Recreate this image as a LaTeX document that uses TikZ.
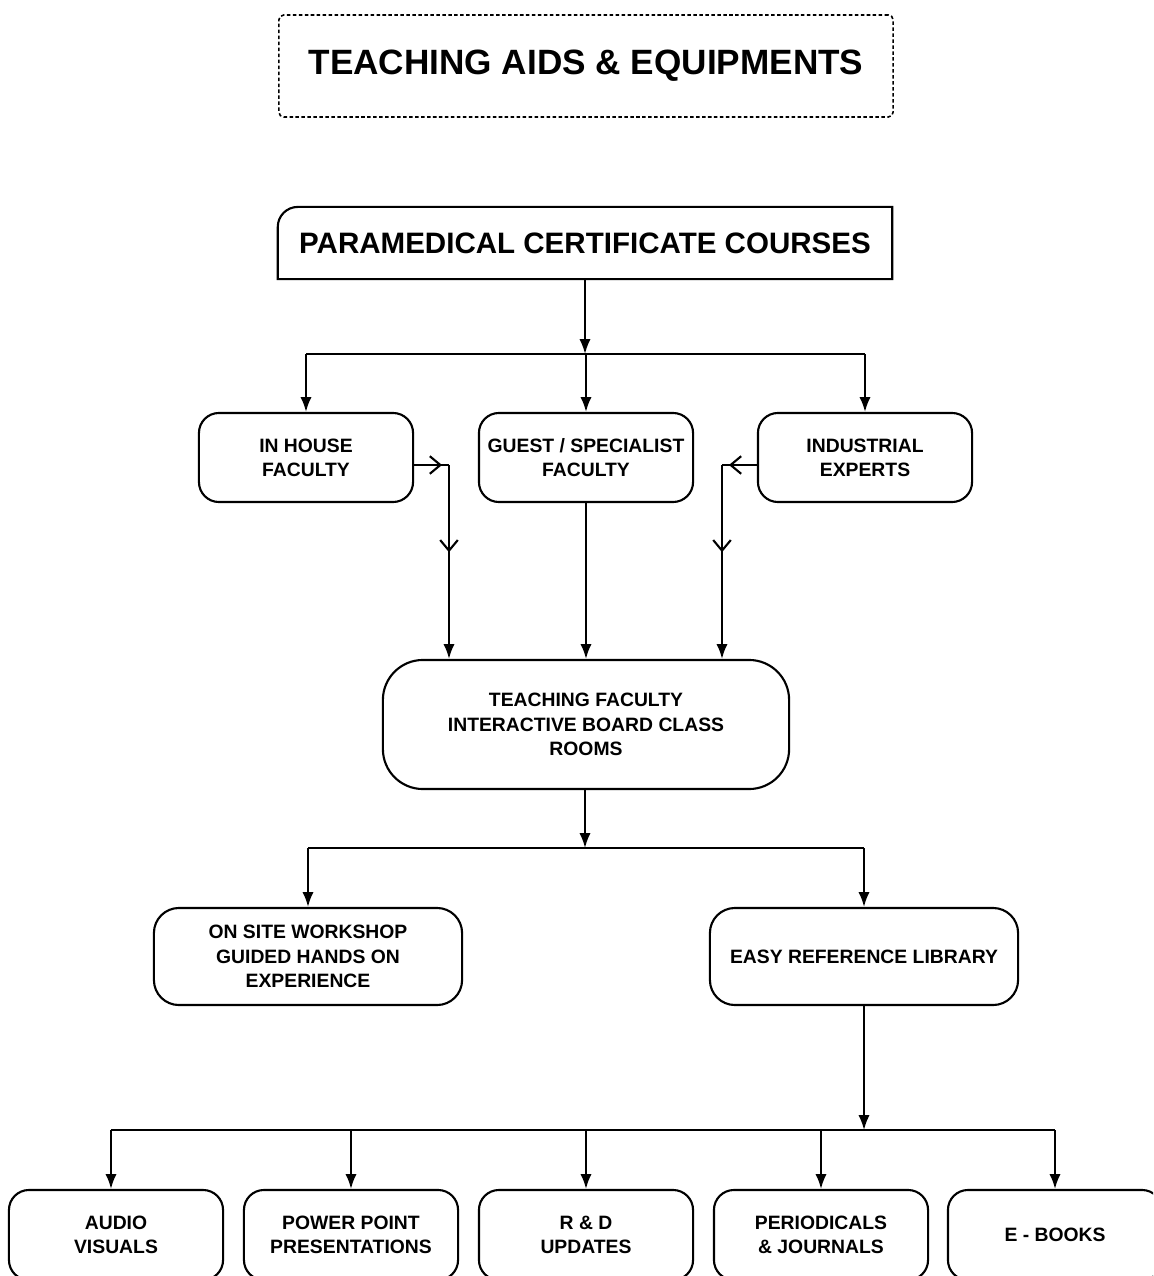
\documentclass[tikz,border=0pt]{standalone}
\usepackage{fontspec}
\setmainfont{Liberation Sans}
\usetikzlibrary{arrows.meta,decorations.markings}
\begin{document}
\begin{tikzpicture}[x=0.01cm,y=-0.01cm,line width=0.6pt,
	box/.style={draw,rounded corners=0.2cm,align=center,inner sep=0pt,
		font=\fontsize{5.5}{6.9}\selectfont\bfseries,minimum width=2.14cm,minimum height=0.89cm},
	arr/.style={-{Latex[length=4.2pt,width=3.2pt]}},
	midarr/.style={postaction={decorate},decoration={markings,
		mark=at position #1 with {\arrow{Straight Barb[length=3pt,width=5pt]}}}}]
	\useasboundingbox (0,0) rectangle (1153,1276);
	\clip (0,0) rectangle (1153,1276);
	
	%title and top box
	\node[draw,dash pattern=on 1pt off 0.7pt,line width=0.45pt,rounded corners=0.05cm,
		minimum width=6.14cm,minimum height=1.02cm,font=\fontsize{10}{12}\selectfont\bfseries]
		(title) at (586,66) {TEACHING AIDS \& EQUIPMENTS};
	\node[minimum width=6.12cm,minimum height=0.7cm,inner sep=0pt,
		font=\fontsize{8.4}{10}\selectfont\bfseries] (para) at (585,243) {PARAMEDICAL CERTIFICATE COURSES};
	\draw (para.south west) -- ([yshift=-0.2cm]para.north west) arc[start angle=180,end angle=90,radius=0.2cm]
		-- (para.north east) -- (para.south east) -- cycle;
	
	%faculty row
	\node[box] (house) at (306,457.5) {IN HOUSE\\FACULTY};
	\node[box] (guest) at (586,457.5) {GUEST / SPECIALIST\\FACULTY};
	\node[box] (indus) at (865,457.5) {INDUSTRIAL\\EXPERTS};
	\node[box,rounded corners=0.4cm,minimum width=4.06cm,minimum height=1.29cm] (tf) at (586,724.5)
		{TEACHING FACULTY\\INTERACTIVE BOARD CLASS\\ROOMS};
	
	\coordinate (bar1) at (585,354);
	\draw[arr] (para.south -| bar1) -- (bar1);
	\draw (house.north |- bar1) -- (indus.north |- bar1);
	\draw[arr] (house.north |- bar1) -- (house.north);
	\draw[arr] (guest.north |- bar1) -- (guest.north);
	\draw[arr] (indus.north |- bar1) -- (indus.north);
	
	\coordinate (jl) at (449,465);
	\coordinate (jr) at (722,465);
	\draw[midarr=0.8] (house.east |- jl) -- (jl);
	\draw[midarr=0.8] (indus.west |- jr) -- (jr);
	\draw[arr,midarr=0.45] (jl) -- (jl |- tf.north);
	\draw[arr,midarr=0.45] (jr) -- (jr |- tf.north);
	\draw[arr] (guest) -- (guest |- tf.north);
	
	%workshop and library
	\node[box,rounded corners=0.25cm,minimum width=3.08cm,minimum height=0.97cm] (site) at (308,956.5)
		{ON SITE WORKSHOP\\GUIDED HANDS ON\\EXPERIENCE};
	\node[box,rounded corners=0.25cm,minimum width=3.08cm,minimum height=0.97cm] (lib) at (864,956.5)
		{EASY REFERENCE LIBRARY};
	\coordinate (bar2) at (585,848);
	\draw[arr] (tf.south -| bar2) -- (bar2);
	\draw (site.north |- bar2) -- (lib.north |- bar2);
	\draw[arr] (site.north |- bar2) -- (site.north);
	\draw[arr] (lib.north |- bar2) -- (lib.north);
	
	%resources
	\node[box,minimum height=0.9cm] (audio) at (116,1235) {AUDIO\\VISUALS};
	\node[box,minimum height=0.9cm] (ppt) at (351,1235) {POWER POINT\\PRESENTATIONS};
	\node[box,minimum height=0.9cm] (rnd) at (586,1235) {R \& D\\UPDATES};
	\node[box,minimum height=0.9cm] (period) at (821,1235) {PERIODICALS\\\& JOURNALS};
	\node[box,minimum height=0.9cm] (ebook) at (1055,1235) {E - BOOKS};
	\coordinate (bar3) at (864,1130);
	\draw[arr] (lib.south) -- (bar3);
	\draw ([xshift=-0.05cm]audio.north |- bar3) -- (ebook.north |- bar3);
	\draw[arr] ([xshift=-0.05cm]audio.north |- bar3) -- ([xshift=-0.05cm]audio.north);
	\foreach \b in {ppt,rnd,period,ebook}
		\draw[arr] (\b.north |- bar3) -- (\b.north);
\end{tikzpicture}
\end{document}
